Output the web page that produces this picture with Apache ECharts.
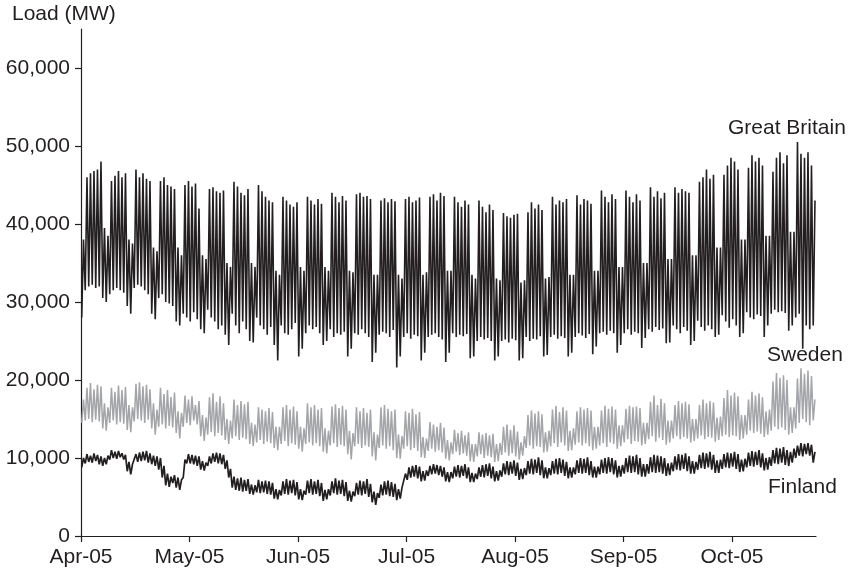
<!DOCTYPE html>
<html>
<head>
<meta charset="utf-8">
<script src="https://cdn.jsdelivr.net/npm/echarts@6/dist/echarts.min.js"></script>
<style>
  html, body { margin: 0; padding: 0; background: #fff; }
  #chart { width: 853px; height: 573px; }
</style>
</head>
<body>
<div id="chart"></div>
<script>
// Hourly load, April–October 2005. Each day is represented by its
// overnight minimum and its evening maximum (MW), one row per week.

// Day offsets (days since 1 April 2005) where the date ticks sit, with their labels
const tickDays = [0, 31, 62, 93, 124, 155, 186];
const tickLabels = ['Apr-05', 'May-05', 'Jun-05', 'Jul-05', 'Aug-05', 'Sep-05', 'Oct-05'];
const loadTicks = [0, 10000, 20000, 30000, 40000, 50000, 60000];

// Hour of day at which the daily minimum and maximum occur
const lowHour = 5;
const highHour = 17;

const gbLow = [
  28000, 31500, 32000, 32200, 31800, 32000, 30500,
  30000, 31000, 31500, 31800, 31500, 31200, 29500,
  28500, 31800, 32200, 32000, 31500, 31000, 28500,
  27800, 30500, 31000, 30000, 29800, 29500, 27500,
  27000, 28500, 28000, 27500, 28700, 27800, 26500,
  26000, 29000, 28000, 27500, 26500, 27000, 25800,
  24500, 28500, 27000, 26000, 27500, 26500, 25000,
  24800, 28000, 27000, 26500, 25800, 26800, 24500,
  22500, 27000, 26000, 25800, 26500, 27300, 23000,
  24000, 26000, 27000, 26500, 26800, 26000, 24500,
  25000, 26500, 25500, 26000, 25800, 26200, 23000,
  24000, 26000, 25800, 26500, 26000, 25500, 22300,
  23500, 25800, 26200, 26000, 25500, 26400, 21600,
  23000, 25500, 26000, 25300, 25800, 25600, 22500,
  23500, 25500, 25800, 26000, 25500, 25200, 22300,
  23500, 26000, 25500, 25800, 25600, 25900, 22800,
  23000, 25000, 25500, 25200, 25400, 25000, 22500,
  23000, 25000, 25200, 24800, 25300, 25100, 22500,
  22800, 25500, 25000, 25300, 25200, 25600, 23000,
  23200, 25500, 25800, 25300, 25600, 25400, 23000,
  23500, 25500, 26000, 25700, 25400, 25900, 23300,
  24300, 26000, 26200, 25800, 26300, 26000, 23500,
  24500, 26000, 26500, 25800, 26200, 26000, 24100,
  25400, 26500, 26200, 26800, 26400, 26600, 24700,
  24800, 27000, 26500, 26000, 26800, 26300, 24500,
  25000, 27600, 26800, 26300, 27000, 26500, 25500,
  25800, 28300, 27500, 26700, 27800, 27000, 25500,
  26000, 28700, 28000, 27800, 28400, 28200, 25500,
  27000, 28500, 29000, 28700, 28800, 28600, 26300,
  27000, 28000, 28500, 24000, 27000, 26500, 27000
];
const gbHigh = [
  38000, 46000, 46500, 46800, 47000, 48000, 39500,
  38500, 45500, 46200, 46800, 46000, 46500, 38000,
  37500, 47000, 46000, 46500, 45800, 45500, 37000,
  36500, 45500, 46000, 45000, 44800, 44500, 37000,
  36000, 45000, 45500, 44800, 45200, 42000, 36000,
  35500, 44500, 44700, 44200, 44000, 44300, 35000,
  34500, 45400, 44800, 44000, 43700, 44500, 35000,
  34500, 45000, 44200, 43500, 43000, 42800, 34000,
  33500, 43500, 43000, 42500, 42200, 42800, 34500,
  34000, 43500, 43000, 42500, 43200, 42600, 34500,
  34000, 44000, 43500, 42800, 43600, 43000, 34000,
  33800, 43800, 44000, 43500, 43600, 43200, 33500,
  33500, 43000, 43300, 42800, 43200, 42900, 33500,
  33000, 43200, 43500, 42800, 43000, 43400, 33500,
  33800, 43500, 43800, 43000, 44000, 43600, 34000,
  34000, 43500, 42800, 42200, 43000, 42500, 33500,
  33000, 43000, 42200, 41500, 42500, 41800, 33000,
  32800, 41400, 41000, 40800, 41200, 41300, 32500,
  32800, 41500, 42800, 42000, 42500, 41800, 33000,
  33200, 43500, 42500, 43000, 42800, 43200, 33500,
  33500, 43700, 42500, 43200, 43000, 42600, 34000,
  34000, 44300, 43500, 42800, 43800, 43200, 34500,
  34500, 44300, 43500, 42800, 43800, 43000, 35000,
  35000, 44700, 43500, 44200, 43300, 44000, 35500,
  35500, 44700, 44000, 44500, 44200, 44000, 36000,
  36000, 45400, 46000, 47000, 45800, 46300, 37000,
  37000, 46300, 47500, 48500, 48000, 47000, 38000,
  38000, 47200, 48800, 48000, 48500, 47500, 38500,
  38500, 46700, 48500, 49200, 47800, 48800, 39000,
  39000, 50500, 49000, 48500, 49200, 47500, 43000
];

const seLow = [
  14500, 14800, 15000, 14600, 14900, 14700, 13800,
  13500, 14500, 14800, 14300, 14600, 14400, 13600,
  13300, 14700, 15000, 14800, 14500, 14900, 13800,
  13000, 14000, 14300, 13800, 14100, 13900, 13200,
  12500, 14000, 14500, 14200, 14800, 14300, 12800,
  12200, 13000, 13300, 12800, 13200, 12900, 12300,
  11800, 12500, 12800, 12300, 12600, 12400, 11800,
  11500, 12000, 12300, 11800, 12100, 11900, 11300,
  11000, 11800, 12200, 11500, 11900, 11700, 11200,
  10800, 11800, 12000, 11600, 11900, 11500, 10800,
  10600, 11600, 11900, 11400, 11700, 11500, 10500,
  9800, 11500, 11800, 11300, 11600, 11400, 10200,
  9700, 11300, 11600, 11200, 11500, 11000, 10000,
  9900, 11200, 11500, 11000, 11300, 10900, 10100,
  10000, 10900, 11200, 10800, 11000, 10700, 9900,
  9700, 10500, 10800, 10400, 10600, 10300, 9600,
  9500, 10200, 10500, 10000, 10300, 10100, 9500,
  9600, 10400, 10700, 10300, 10600, 10200, 9800,
  10300, 11300, 11600, 11200, 11500, 11400, 10700,
  10800, 11500, 11900, 11400, 12000, 11600, 10900,
  11000, 11700, 12000, 11600, 11900, 11500, 11000,
  11200, 11600, 11900, 11400, 12000, 11800, 11200,
  11500, 12000, 12400, 11800, 12200, 12100, 11600,
  11800, 12400, 12800, 12100, 12600, 12300, 11700,
  12000, 12500, 12800, 12400, 12700, 12500, 12000,
  12200, 12500, 12900, 12400, 12700, 12600, 12100,
  12300, 12800, 13000, 12700, 12900, 12800, 12300,
  12500, 13000, 13500, 13200, 13400, 13100, 12700,
  13000, 13500, 14000, 13700, 13900, 13600, 13000,
  13200, 13800, 14500, 15000, 14600, 14200, 14800
];
const seHigh = [
  17500, 19000, 19600, 18800, 19400, 19200, 17000,
  16500, 19000, 18500, 19300, 18700, 19100, 16800,
  16500, 19500, 19700, 19200, 19400, 18800, 17000,
  16200, 19000, 18200, 18700, 17800, 18400, 16000,
  15800, 18000, 17500, 17900, 16800, 17300, 15500,
  15200, 17800, 18300, 17200, 17900, 17000, 15000,
  14800, 17500, 16800, 17300, 16900, 17200, 14500,
  14300, 16500, 16200, 16000, 16400, 15900, 14000,
  14000, 16500, 16800, 16200, 16600, 16000, 14000,
  13800, 17000, 16500, 16800, 16200, 16400, 13800,
  13500, 16600, 16900, 16400, 16700, 16200, 13500,
  13200, 16500, 16000, 16400, 15800, 16200, 13300,
  13000, 16500, 16800, 16300, 16000, 16200, 13000,
  12800, 16000, 15800, 16300, 15600, 15900, 12700,
  12500, 14600, 14300, 14000, 14500, 13900, 12300,
  12000, 13600, 13200, 13500, 12900, 13300, 11800,
  11800, 13300, 13000, 13200, 12900, 13100, 11800,
  11900, 14000, 14300, 13600, 14200, 13400, 12000,
  12800, 15500, 16100, 15700, 16000, 15600, 13300,
  13500, 16200, 16700, 15900, 16500, 16100, 13500,
  13800, 16000, 16500, 16200, 16400, 16100, 14000,
  14000, 16100, 16700, 16300, 16600, 16200, 14200,
  14200, 16300, 16700, 16500, 16600, 16400, 14500,
  14500, 17200, 18000, 16800, 17600, 17000, 14800,
  14800, 16800, 17300, 17000, 17200, 16900, 15000,
  15000, 16800, 17500, 17000, 17300, 17100, 15200,
  15300, 17700, 18700, 18000, 18400, 17900, 15500,
  15500, 17500, 18500, 18000, 18300, 17800, 16000,
  16200, 19800, 20900, 20300, 20600, 20000, 16500,
  16500, 20200, 21500, 20800, 21200, 20500, 17500
];

const fiLow = [
  8800, 9300, 9500, 9400, 9600, 9200, 9000,
  9200, 9800, 10000, 9900, 10100, 9800, 8300,
  7900, 9200, 9500, 9600, 9700, 9400, 9200,
  9000, 8500, 7500, 6500, 6300, 6800, 6200,
  5900, 7500, 9300, 9300, 9200, 9000, 8500,
  8400, 9000, 9300, 9500, 9300, 9200, 8600,
  7500, 6200, 5900, 5800, 5700, 5800, 5400,
  5300, 5600, 5500, 5600, 5400, 5300, 4800,
  4700, 5200, 5400, 5300, 5500, 5200, 4700,
  4600, 5300, 5500, 5300, 5400, 5100, 4500,
  4700, 5200, 5500, 5300, 5400, 5100, 4500,
  4400, 5100, 5300, 5200, 5400, 5000, 4300,
  4000, 4900, 5200, 5300, 5100, 5000, 4600,
  4800, 6200, 7200, 7500, 7600, 7400, 7000,
  7100, 7700, 7900, 8000, 7800, 7600, 7000,
  6900, 7400, 7600, 7500, 7700, 7400, 6900,
  6900, 7300, 7600, 7500, 7700, 7400, 7000,
  7100, 7600, 7900, 7800, 8000, 7700, 7200,
  7300, 7800, 8000, 7900, 8100, 7800, 7400,
  7400, 7800, 8000, 7900, 8100, 7700, 7400,
  7500, 7900, 8100, 8000, 8100, 7800, 7500,
  7500, 7900, 8100, 8000, 8200, 7900, 7500,
  7600, 8000, 8200, 8100, 8200, 7900, 7600,
  7600, 8000, 8200, 8100, 8200, 8000, 7700,
  7800, 8300, 8500, 8400, 8600, 8300, 8000,
  8000, 8500, 8700, 8600, 8800, 8500, 8100,
  8100, 8600, 8800, 8700, 8900, 8600, 8200,
  8300, 8800, 9000, 8900, 9100, 8800, 8400,
  8500, 9000, 9300, 9200, 9400, 9100, 9000,
  9400, 10000, 10300, 10200, 10500, 10300, 9400
];
const fiHigh = [
  10000, 10500, 10300, 10600, 10400, 10200, 10000,
  10300, 11000, 10800, 10900, 10600, 10400, 9500,
  9200, 10500, 10700, 10800, 10900, 10600, 10300,
  10200, 10000, 9000, 8000, 7600, 7800, 7500,
  7200, 9800, 10500, 10400, 10300, 10200, 9600,
  9400, 10200, 10600, 10700, 10600, 10400, 9700,
  8600, 7600, 7400, 7500, 7200, 7300, 6600,
  6500, 7200, 7000, 7100, 7000, 6800, 6000,
  5900, 7000, 7300, 7100, 7200, 6900, 6000,
  5800, 7100, 7300, 7000, 7200, 6800, 5900,
  6000, 7000, 7400, 7100, 7200, 6900, 5800,
  5700, 6800, 7100, 7000, 7300, 6700, 5700,
  5500, 6600, 7000, 7100, 6900, 6700, 6000,
  6200, 8000, 8800, 9000, 9100, 8900, 8300,
  8400, 9000, 9200, 9100, 9000, 8800, 8200,
  8200, 8900, 9100, 9000, 9200, 8800, 8100,
  8000, 8800, 9100, 9200, 9300, 8900, 8300,
  8400, 9300, 9600, 9500, 9700, 9400, 8600,
  8700, 9600, 9900, 9800, 10100, 9700, 8800,
  8700, 9600, 9900, 10000, 9800, 9500, 8800,
  8800, 9700, 10000, 9900, 10100, 9600, 8900,
  8900, 9800, 10000, 10100, 10000, 9700, 9000,
  9100, 10000, 10300, 10200, 10400, 10000, 9200,
  9200, 10100, 10400, 10300, 10200, 10000, 9300,
  9400, 10200, 10500, 10400, 10600, 10200, 9600,
  9500, 10400, 10700, 10600, 10800, 10400, 9700,
  9800, 10500, 10700, 10600, 10800, 10500, 9800,
  9900, 10700, 10900, 10800, 11000, 10600, 10000,
  10100, 11000, 11300, 11200, 11400, 11000, 10800,
  11200, 11600, 11900, 11800, 11900, 11700, 10800
];

// Interleave daily minimum and maximum into a time-ordered [day, MW] series
function dailySeries(lows, highs) {
  const out = [];
  for (let d = 0; d < lows.length; d++) {
    out.push([d + lowHour / 24, lows[d]]);
    out.push([d + highHour / 24, highs[d]]);
  }
  return out;
}

const ink = '#231f20';
const grey = '#a3a5a8';
const font = 'Liberation Sans, Arial, Helvetica, sans-serif';
const lastDay = gbLow.length;

const chart = echarts.init(document.getElementById('chart'), null, { renderer: 'canvas' });

chart.setOption({
  animation: false,
  backgroundColor: '#ffffff',
  grid: { left: 81, right: 37, top: 29, bottom: 37 },
  xAxis: {
    type: 'value',
    min: 0,
    max: lastDay,
    interval: 31,
    splitLine: { show: false },
    axisLine: { lineStyle: { color: ink, width: 1.2 } },
    axisTick: { length: 6, lineStyle: { color: ink, width: 1.2 }, customValues: tickDays },
    axisLabel: {
      customValues: tickDays,
      margin: 11,
      color: ink,
      fontFamily: font,
      fontSize: 21,
      formatter: v => tickLabels[tickDays.indexOf(v)] || ''
    }
  },
  yAxis: {
    type: 'value',
    min: 0,
    max: 65000,
    interval: 10000,
    splitLine: { show: false },
    axisLine: { show: true, lineStyle: { color: ink, width: 1.2 } },
    axisTick: { show: true, length: 6, lineStyle: { color: ink, width: 1.2 }, customValues: loadTicks },
    axisLabel: {
      customValues: loadTicks,
      margin: 11,
      color: ink,
      fontFamily: font,
      fontSize: 21,
      formatter: v => v.toLocaleString('en-US')
    }
  },
  series: [
    {
      name: 'Great Britain', type: 'line', showSymbol: false,
      data: dailySeries(gbLow, gbHigh),
      lineStyle: { color: ink, width: 1.6 }
    },
    {
      name: 'Sweden', type: 'line', showSymbol: false,
      data: dailySeries(seLow, seHigh),
      lineStyle: { color: grey, width: 1.5 }
    },
    {
      name: 'Finland', type: 'line', showSymbol: false,
      data: dailySeries(fiLow, fiHigh),
      lineStyle: { color: ink, width: 1.7 }
    }
  ],
  graphic: [
    { type: 'text', left: 12, top: 4, style: { text: 'Load (MW)', fill: ink, font: '21px ' + font } },
    { type: 'text', left: 728, top: 118, style: { text: 'Great Britain', fill: ink, font: '21px ' + font } },
    { type: 'text', left: 767, top: 345, style: { text: 'Sweden', fill: ink, font: '21px ' + font } },
    { type: 'text', left: 768, top: 477, style: { text: 'Finland', fill: ink, font: '21px ' + font } }
  ]
});
</script>
</body>
</html>
